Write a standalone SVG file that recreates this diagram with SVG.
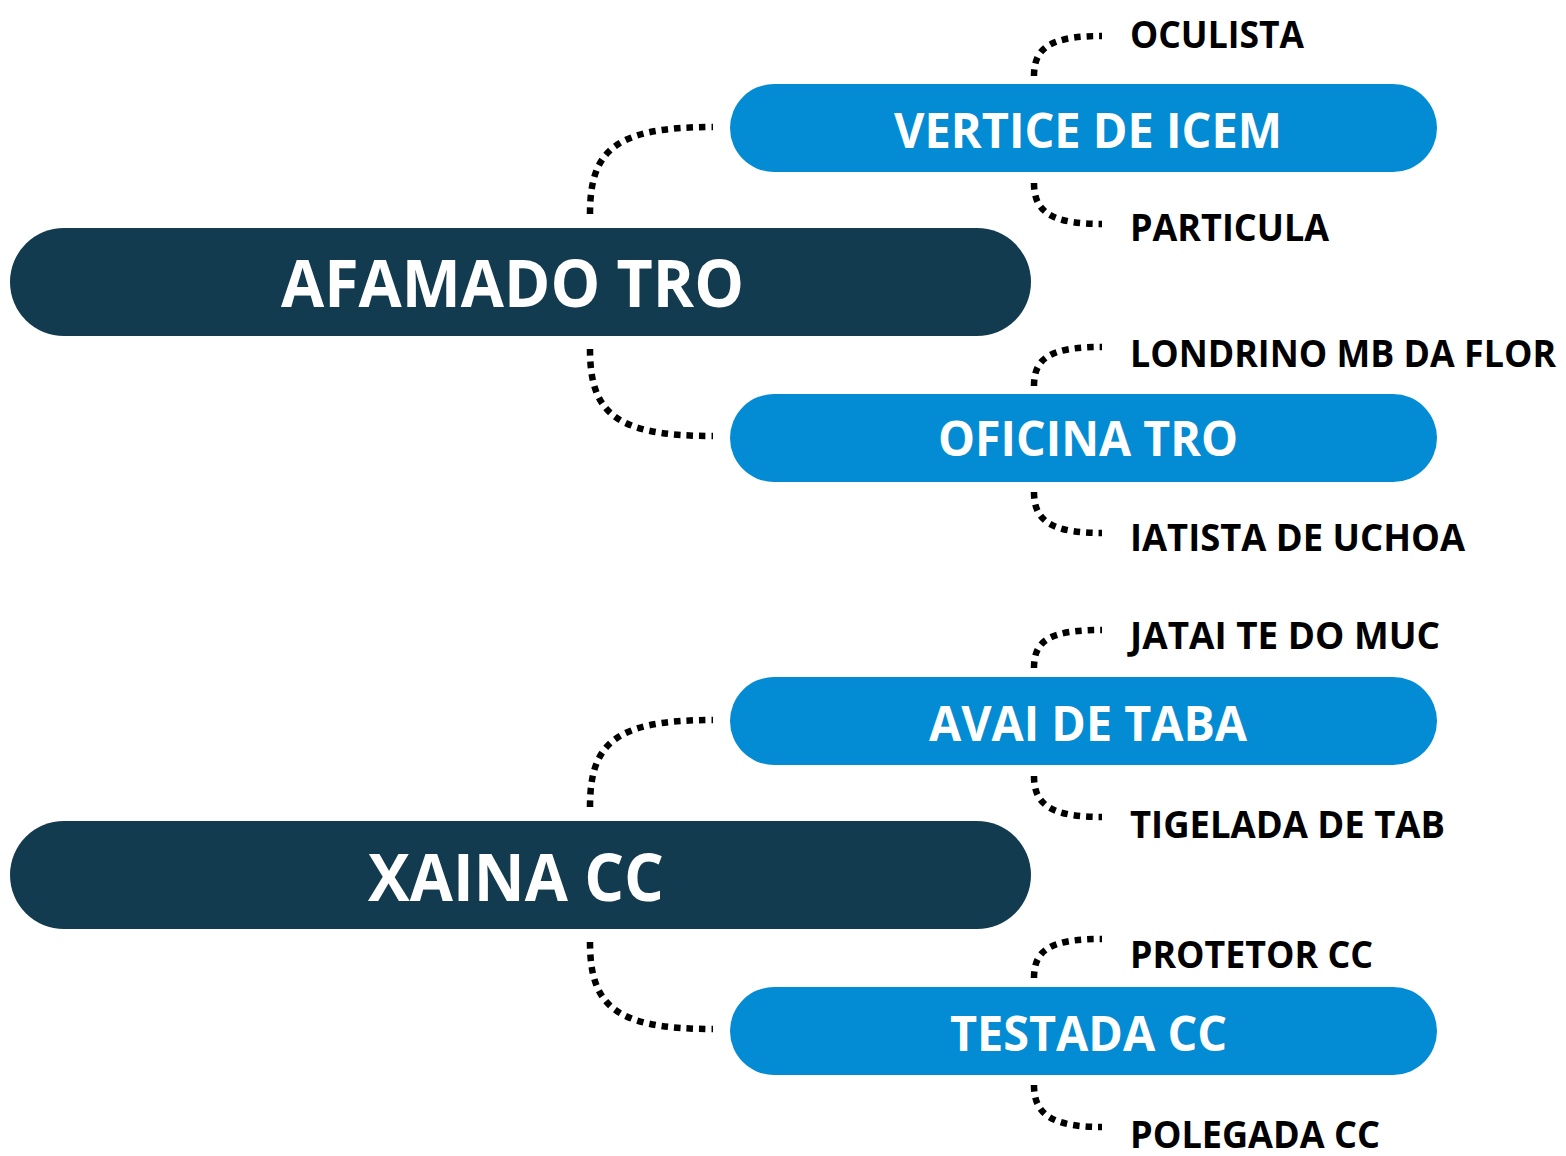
<svg xmlns="http://www.w3.org/2000/svg" width="1566" height="1156" viewBox="0 0 1566 1156">
<style>
.main{fill:#123b4f}
.sub{fill:#038bd4}
.mt{font-family:"Open Sans","Noto Sans",sans-serif;font-weight:bold;font-size:67px;fill:#fff}
.st{font-family:"Open Sans","Noto Sans",sans-serif;font-weight:bold;font-size:48px;fill:#fff}
.lt{font-family:"Open Sans","Noto Sans",sans-serif;font-weight:bold;font-size:37px;fill:#000}
.c{fill:none;stroke:#000;stroke-width:6.5;stroke-dasharray:6.5 6}
</style>
<rect width="1566" height="1156" fill="#fff"/>
<g id="connectors">
<path class="c" d="M590,214 C590,150 615,127 713,127"/>
<path class="c" d="M590,349 C590,413 615,436 713,436"/>
<path class="c" d="M590,807 C590,743 615,720 713,720"/>
<path class="c" d="M590,942 C590,1006 615,1029 713,1029"/>
<path class="c" d="M1034,76 C1034,48 1050,36 1102,36"/>
<path class="c" d="M1034,183 C1034,211 1050,224 1102,224"/>
<path class="c" d="M1034,386 C1034,358 1050,347 1102,347"/>
<path class="c" d="M1034,492 C1034,520 1050,533 1102,533"/>
<path class="c" d="M1034,668 C1034,640 1050,630 1102,630"/>
<path class="c" d="M1034,776 C1034,804 1050,817 1102,817"/>
<path class="c" d="M1034,978 C1034,950 1050,939 1102,939"/>
<path class="c" d="M1034,1085 C1034,1113 1050,1127 1102,1127"/>
</g>
<g id="afamado-tro"><rect class="main" x="10" y="228" width="1021" height="108" rx="54"/><text class="mt" x="281" y="307" textLength="463" lengthAdjust="spacingAndGlyphs">AFAMADO TRO</text></g>
<g id="xaina-cc"><rect class="main" x="10" y="821" width="1021" height="108" rx="54"/><text class="mt" x="368" y="901" textLength="296" lengthAdjust="spacingAndGlyphs">XAINA CC</text></g>
<g id="vertice-de-icem"><rect class="sub" x="730" y="84" width="707" height="88" rx="44"/><text class="st" x="894" y="148" textLength="388" lengthAdjust="spacingAndGlyphs">VERTICE DE ICEM</text></g>
<g id="oficina-tro"><rect class="sub" x="730" y="394" width="707" height="88" rx="44"/><text class="st" x="938" y="456" textLength="300" lengthAdjust="spacingAndGlyphs">OFICINA TRO</text></g>
<g id="avai-de-taba"><rect class="sub" x="730" y="677" width="707" height="88" rx="44"/><text class="st" x="929" y="741" textLength="318" lengthAdjust="spacingAndGlyphs">AVAI DE TABA</text></g>
<g id="testada-cc"><rect class="sub" x="730" y="987" width="707" height="88" rx="44"/><text class="st" x="950" y="1051" textLength="277" lengthAdjust="spacingAndGlyphs">TESTADA CC</text></g>
<g id="oculista"><text class="lt" x="1130" y="48" textLength="174" lengthAdjust="spacingAndGlyphs">OCULISTA</text></g>
<g id="particula"><text class="lt" x="1130" y="241" textLength="199" lengthAdjust="spacingAndGlyphs">PARTICULA</text></g>
<g id="londrino"><text class="lt" x="1130" y="367" textLength="426" lengthAdjust="spacingAndGlyphs">LONDRINO MB DA FLOR</text></g>
<g id="iatista"><text class="lt" x="1130" y="551" textLength="335" lengthAdjust="spacingAndGlyphs">IATISTA DE UCHOA</text></g>
<g id="jatai"><text class="lt" x="1130" y="649" textLength="310" lengthAdjust="spacingAndGlyphs">JATAI TE DO MUC</text></g>
<g id="tigelada"><text class="lt" x="1130" y="838" textLength="315" lengthAdjust="spacingAndGlyphs">TIGELADA DE TAB</text></g>
<g id="protetor"><text class="lt" x="1130" y="968" textLength="243" lengthAdjust="spacingAndGlyphs">PROTETOR CC</text></g>
<g id="polegada"><text class="lt" x="1130" y="1148" textLength="250" lengthAdjust="spacingAndGlyphs">POLEGADA CC</text></g>
</svg>
